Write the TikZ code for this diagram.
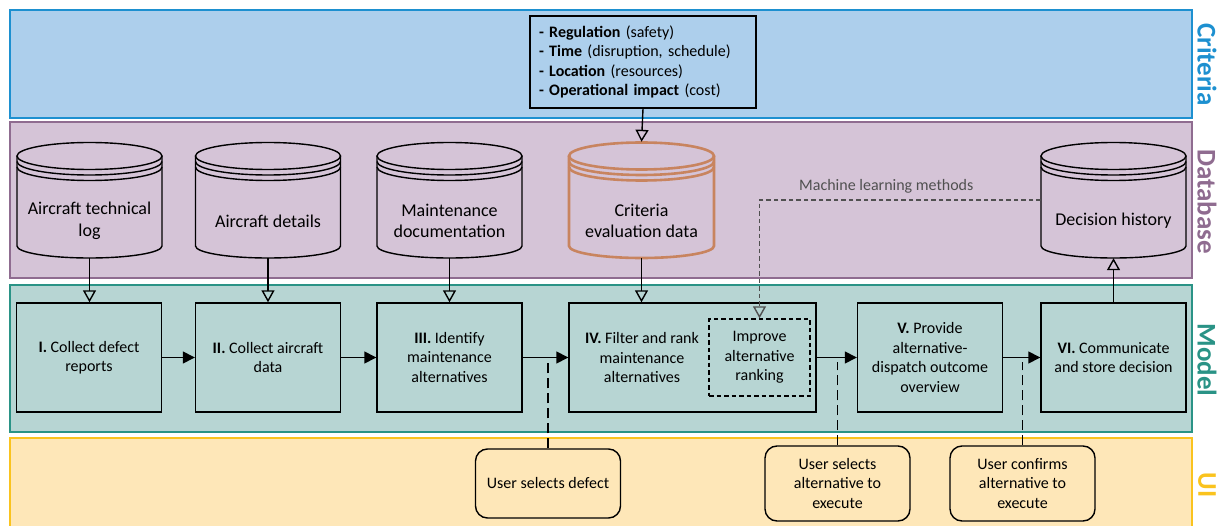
\documentclass[tikz,border=0pt]{standalone}
\usepackage{fontspec}
\setmainfont{Carlito}
\usetikzlibrary{arrows.meta}
\definecolor{critfill}{HTML}{ADCFEC}
\definecolor{critline}{HTML}{1D90D0}
\definecolor{dbfill}{HTML}{D5C4D7}
\definecolor{dbline}{HTML}{8F6C90}
\definecolor{modfill}{HTML}{B7D5D3}
\definecolor{modline}{HTML}{2A9386}
\definecolor{uifill}{HTML}{FEE7B8}
\definecolor{uiline}{HTML}{FAC31E}
\definecolor{orangecyl}{HTML}{C8845F}
\definecolor{mlgray}{HTML}{505050}
\tikzset{
  band/.style={line width=2pt},
  sidelab/.style={rotate=-90, font=\fontsize{27}{30}\selectfont\bfseries},
  proc/.style={draw=black, line width=1.4pt, minimum width=145pt, minimum height=109pt, inner sep=2pt, align=center, font=\fontsize{16}{19.5}\selectfont},
  txt/.style={align=center, inner sep=0pt, font=\fontsize{16}{19.5}\selectfont},
  cyltxt/.style={align=center, inner sep=0pt, font=\fontsize{18}{21.5}\selectfont},
  uibox/.style={draw=black, line width=1.4pt, rounded corners=12pt, minimum width=145pt, minimum height=75pt, inner sep=2pt, align=center, font=\fontsize{16}{19.5}\selectfont},
  openarrow/.style={line width=1.4pt, -{Triangle[open, width=13pt, length=12pt]}},
  fillarrow/.style={line width=1.4pt, -{Triangle[width=12pt, length=12pt]}},
  uidash/.style={line width=1.4pt, dash pattern=on 10pt off 5pt},
  mldash/.style={draw=mlgray, line width=1.4pt, dash pattern=on 4.5pt off 3pt, -{Triangle[open, width=13pt, length=12pt]}},
}
% cylinder drawing: #1 name, #2 centre x, #3 draw options
\newcommand{\dbcylinder}[3]{%
  \begin{scope}[shift={(#2,0)}, #3]
    \draw (-72.5,156) -- (-72.5,246) arc[start angle=180, end angle=0, x radius=72.5, y radius=12] -- (72.5,156);
    \draw (0,156) ellipse[x radius=72.5, y radius=13.5];
    \draw (-72.5,161.5) arc[start angle=180, end angle=0, x radius=72.5, y radius=13.5];
    \draw (-72.5,167) arc[start angle=180, end angle=0, x radius=72.5, y radius=13.5];
  \end{scope}
  \node[minimum width=145pt, minimum height=116pt, inner sep=0pt] (#1) at (#2,200) {};
}
\begin{document}
\begin{tikzpicture}[x=1pt, y=-1pt]
\useasboundingbox (0,0) rectangle (1222,526);
% bands
\draw[band, draw=critline, fill=critfill] (10,10) rectangle (1192,118);
\draw[band, draw=dbline, fill=dbfill] (10,122) rectangle (1192,278);
\draw[band, draw=modline, fill=modfill] (10,285) rectangle (1192,432);
\draw[band, draw=uiline, fill=uifill] (10,438) rectangle (1192,540);
% side labels
\node[sidelab, text=critline] (lcrit) at (1207,64.5) {Criteria};
\node[sidelab, text=dbline] (ldb) at (1207,201.5) {Database};
\node[sidelab, text=modline] (lmod) at (1207,360) {Model};
\node[sidelab, text=uiline] (lui) at (1207,485) {UI};
% criteria box
\node[draw=black, line width=1.4pt, minimum width=226pt, minimum height=92pt, text width=208pt, inner xsep=9pt, align=left, font=\fontsize{16}{19.5}\selectfont] (crit) at (643,62)
  {\textbf{- Regulation} (safety)\\\textbf{- Time} (disruption, schedule)\\\textbf{- Location} (resources)\\\textbf{- Operational impact} (cost)};
% cylinders
\dbcylinder{cyl1}{89.5}{line width=1.4pt}
\node[cyltxt] (cyl1t) at (89.5,221) {Aircraft technical\\log};
\dbcylinder{cyl2}{268}{line width=1.4pt}
\node[cyltxt] (cyl2t) at (268,221) {Aircraft details};
\dbcylinder{cyl3}{449.5}{line width=1.4pt}
\node[cyltxt] (cyl3t) at (449.5,221) {Maintenance\\documentation};
\dbcylinder{cyl4}{641.5}{line width=2.6pt, draw=orangecyl}
\node[cyltxt] (cyl4t) at (641.5,221) {Criteria\\evaluation data};
\dbcylinder{cyl5}{1113.5}{line width=1.4pt}
\node[cyltxt] (cyl5t) at (1113.5,221) {Decision history};
% model boxes
\node[proc] (box1) at (89,357.5) {\textbf{I.} Collect defect\\reports};
\node[proc] (box2) at (268,357.5) {\textbf{II.} Collect aircraft\\data};
\node[proc] (box3) at (449.5,357.5) {\textbf{III.} Identify\\maintenance\\alternatives};
\node[proc, minimum width=247pt] (box4) at (692.5,357.5) {};
\node[txt] (box4t) at (642,358) {\textbf{IV.} Filter and rank\\maintenance\\alternatives};
\node[draw=black, line width=1.4pt, dash pattern=on 4.5pt off 3pt, minimum width=101pt, minimum height=77pt, inner sep=0pt, align=center, font=\fontsize{16}{19.5}\selectfont] (imp) at (759.5,357.5) {Improve\\alternative\\ranking};
\node[proc] (box5) at (930,357.5) {\textbf{V.} Provide\\alternative-\\dispatch outcome\\overview};
\node[proc] (box6) at (1113.5,357.5) {\textbf{VI.} Communicate\\and store decision};
% UI boxes
\node[uibox, minimum height=69pt] (ui1) at (548,483.5) {User selects defect};
\node[uibox] (ui2) at (837.5,483.5) {User selects\\alternative to\\execute};
\node[uibox] (ui3) at (1022.5,483.5) {User confirms\\alternative to\\execute};
% criteria -> criteria evaluation data
\draw[openarrow] (crit.south) -- (cyl4.north);
% databases -> model
\draw[openarrow] (cyl1.south) -- (cyl1.south |- box1.north);
\draw[openarrow] (cyl2.south) -- (box2.north);
\draw[openarrow] (cyl3.south) -- (box3.north);
\draw[openarrow] (cyl4.south) -- (cyl4.south |- box4.north);
\draw[openarrow] (box6.north) -- (cyl5.south);
% process flow
\draw[fillarrow] (box1.east) -- (box2.west);
\draw[fillarrow] (box2.east) -- (box3.west);
\draw[fillarrow] (box3.east) -- (box4.west);
\draw[fillarrow] (box4.east) -- (box5.west);
\draw[fillarrow] (box5.east) -- (box6.west);
% machine learning
\draw[mldash] (cyl5.west) -| (imp.north);
\node[anchor=base west, inner sep=0pt, text=mlgray, font=\fontsize{16}{19.5}\selectfont] (ml) at (799,191) {Machine learning methods};
% UI connectors
\coordinate (j1) at (548,362);
\coordinate (j2) at (837.5,362);
\coordinate (j3) at (1022.5,362);
\draw[uidash] (ui1.north) -- (j1);
\draw[uidash] (ui2.north) -- (j2);
\draw[uidash] (ui3.north) -- (j3);
\end{tikzpicture}
\end{document}
